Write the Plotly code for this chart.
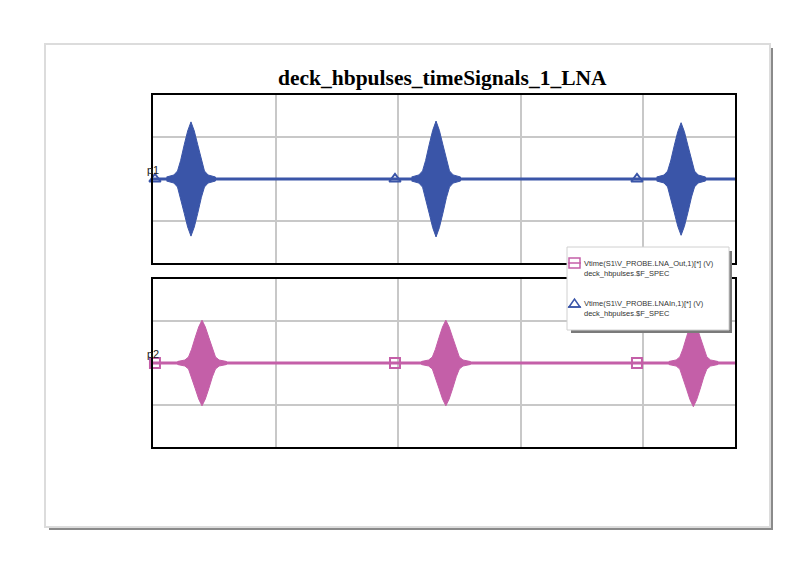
import plotly.graph_objects as go

# ---------------- data (time in grid divisions) ----------------
in_pulse_centers = [0.31, 2.31, 4.31]        # LNAIn (p1, blue)
in_pulse_peaks = [0.68, 0.69, 0.67]
out_pulse_centers = [0.40, 2.39, 4.41]       # LNA_Out (p2, pink)
out_pulse_peaks = [0.51, 0.51, 0.52]
# burst envelope: offset from centre vs relative amplitude
env_offsets = [-0.20, -0.14, -0.11, -0.085, -0.055, -0.027, 0.0,
               0.027, 0.055, 0.085, 0.11, 0.14, 0.20]
env_shape = [0.035, 0.07, 0.14, 0.32, 0.60, 0.84, 1.0,
             0.84, 0.60, 0.32, 0.14, 0.07, 0.035]
baseline_t = [0.0, 4.75]
baseline_v = [0.0, 0.0]
in_marker_t = [0.016, 1.975, 3.95]
out_marker_t = [0.016, 1.975, 3.95]
marker_v = [0.0, 0.0, 0.0]

in_name = "Vtime(S1\\V_PROBE.LNAIn,1)[*] (V)"
out_name = "Vtime(S1\\V_PROBE.LNA_Out,1)[*] (V)"
dataset = "deck_hbpulses.$F_SPEC"
title = "deck_hbpulses_timeSignals_1_LNA"

BLUE = "#3a55a8"
PINK = "#c45fa8"
OFF = 8                      # page body margin
W, H = 800 - OFF, 578 - OFF


def X(px):
    return (px - OFF) / W


def Y(py):
    return 1 - (py - OFF) / H


def bursts(centers, peaks):
    xs, ys = [], []
    for c, p in zip(centers, peaks):
        up_x = [c + o for o in env_offsets]
        up_y = [p * s for s in env_shape]
        xs += up_x + up_x[::-1] + [None]
        ys += up_y + [-v for v in up_y[::-1]] + [None]
    return xs, ys


fig = go.Figure()

for centers, peaks, col, mt, sym, xa, ya in [
    (in_pulse_centers, in_pulse_peaks, BLUE, in_marker_t, "triangle-up-open", "x", "y"),
    (out_pulse_centers, out_pulse_peaks, PINK, out_marker_t, "square-open", "x2", "y2"),
]:
    bx, by = bursts(centers, peaks)
    fig.add_trace(go.Scatter(x=baseline_t, y=baseline_v, mode="lines",
                             line=dict(color=col, width=3), xaxis=xa, yaxis=ya,
                             showlegend=False, hoverinfo="skip"))
    fig.add_trace(go.Scatter(x=bx, y=by, mode="lines", fill="toself", fillcolor=col,
                             line=dict(color=col, width=1), xaxis=xa, yaxis=ya,
                             showlegend=False, hoverinfo="skip"))
    fig.add_trace(go.Scatter(x=mt, y=marker_v, mode="markers",
                             marker=dict(symbol=sym, size=10, color=col, line=dict(width=2, color=col)),
                             xaxis=xa, yaxis=ya, showlegend=False, cliponaxis=False))

axis_common = dict(range=[0, 4.75], dtick=1, tick0=0, showticklabels=False, ticks="",
                   showgrid=True, gridcolor="#c8c8c8", gridwidth=1.5, zeroline=False,
                   showline=True, linecolor="black", linewidth=1.5, mirror=True)
yaxis_common = dict(range=[-1, 1], dtick=0.5, tick0=0, showticklabels=False, ticks="",
                    showgrid=True, gridcolor="#c8c8c8", gridwidth=1.5, zeroline=False,
                    showline=True, linecolor="black", linewidth=1.5, mirror=True)

shapes = [
    # outer frame shadow + frame
    dict(type="rect", xref="paper", yref="paper", x0=X(49), x1=X(773), y0=Y(48), y1=Y(530),
         fillcolor="#8a8a8a", line=dict(width=0), layer="below"),
    dict(type="rect", xref="paper", yref="paper", x0=X(45), x1=X(770), y0=Y(44), y1=Y(527),
         fillcolor="white", line=dict(color="#dcdcdc", width=2), layer="below"),
    # legend shadow + box
    dict(type="rect", xref="paper", yref="paper", x0=X(571), x1=X(732), y0=Y(251), y1=Y(333),
         fillcolor="#7a7a7a", line=dict(width=0), layer="above"),
    dict(type="rect", xref="paper", yref="paper", x0=X(567), x1=X(729), y0=Y(247), y1=Y(330),
         fillcolor="white", line=dict(color="#d0d0d0", width=1), layer="above"),
    # legend icons
    dict(type="rect", xref="paper", yref="paper", x0=X(569), x1=X(580), y0=Y(258), y1=Y(268),
         fillcolor="rgba(0,0,0,0)", line=dict(color=PINK, width=1.5), layer="above"),
    dict(type="line", xref="paper", yref="paper", x0=X(568), x1=X(581), y0=Y(263), y1=Y(263),
         line=dict(color=PINK, width=1.5), layer="above"),
    dict(type="path", xref="paper", yref="paper",
         path=f"M {X(569)} {Y(307)} L {X(574.5)} {Y(299)} L {X(580)} {Y(307)} Z",
         fillcolor="rgba(0,0,0,0)", line=dict(color=BLUE, width=1.5), layer="above"),
    dict(type="line", xref="paper", yref="paper", x0=X(568), x1=X(581), y0=Y(307), y1=Y(307),
         line=dict(color=BLUE, width=1.5), layer="above"),
]

annotations = [
    dict(text=f"<b>{title}</b>", xref="paper", yref="paper", x=X(443), y=Y(78),
         xanchor="center", yanchor="middle", showarrow=False,
         font=dict(family="Liberation Serif", size=21.5, color="black")),
    dict(text="p1", xref="paper", yref="paper", x=X(153), y=Y(170),
         xanchor="center", yanchor="middle", showarrow=False,
         font=dict(family="Liberation Sans", size=11, color="#222")),
    dict(text="p2", xref="paper", yref="paper", x=X(153), y=Y(354),
         xanchor="center", yanchor="middle", showarrow=False,
         font=dict(family="Liberation Sans", size=11, color="#222")),
    dict(text=f"{out_name}<br>{dataset}", xref="paper", yref="paper", x=X(582), y=Y(268.5),
         xanchor="left", yanchor="middle", align="left", showarrow=False,
         font=dict(family="Liberation Sans", size=7.5, color="#333")),
    dict(text=f"{in_name}<br>{dataset}", xref="paper", yref="paper", x=X(582), y=Y(308.5),
         xanchor="left", yanchor="middle", align="left", showarrow=False,
         font=dict(family="Liberation Sans", size=7.5, color="#333")),
]

fig.update_layout(
    width=W, height=H, autosize=False,
    margin=dict(l=0, r=0, t=0, b=0),
    paper_bgcolor="white", plot_bgcolor="white",
    showlegend=False,
    xaxis=dict(domain=[X(153), X(735)], anchor="y", **axis_common),
    yaxis=dict(domain=[Y(263), Y(95)], anchor="x", **yaxis_common),
    xaxis2=dict(domain=[X(153), X(735)], anchor="y2", **axis_common),
    yaxis2=dict(domain=[Y(447), Y(279)], anchor="x2", **yaxis_common),
    shapes=shapes,
    annotations=annotations,
)

fig.write_html("out.html")
